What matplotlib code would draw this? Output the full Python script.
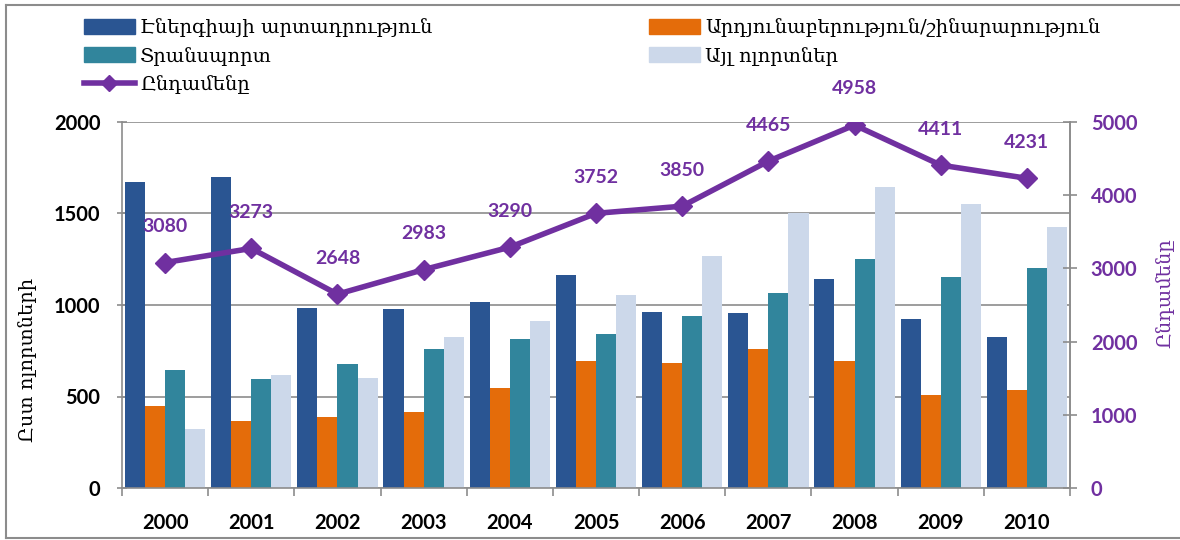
import numpy as np
import matplotlib.pyplot as plt
from matplotlib.lines import Line2D
from matplotlib.patches import Patch

# data
years = ["2000", "2001", "2002", "2003", "2004", "2005", "2006", "2007", "2008", "2009", "2010"]
energy = [1674, 1698, 985, 978, 1018, 1162, 960, 956, 1142, 925, 827]
industry = [448, 368, 390, 415, 545, 692, 685, 761, 694, 507, 534]
transport = [645, 596, 679, 760, 814, 843, 940, 1063, 1250, 1153, 1200]
other = [322, 617, 600, 827, 912, 1055, 1270, 1501, 1643, 1552, 1426]
total = [3080, 3273, 2648, 2983, 3290, 3752, 3850, 4465, 4958, 4411, 4231]

series_names = ["Էներգիայի արտադրություն", "Արդյունաբերություն/շինարարություն",
                "Տրանսպորտ", "Այլ ոլորտներ"]
total_name = "Ընդամենը"
left_title = "Ըստ ոլորտների"

colors = ["#2A5592", "#E46C0A", "#31859C", "#CCD8EA"]
purple = "#7030A0"
grey = "#8C8C8C"

serif = ["DejaVu Serif", "DejaVu Sans"]
num_font = ["Lato", "DejaVu Sans"]

fig = plt.figure(figsize=(11.8, 5.4), dpi=100)
ax = fig.add_axes([122 / 1180, 52 / 540, 948 / 1180, 366 / 540])

x = np.arange(len(years))
w = 0.233
for i, vals in enumerate([energy, industry, transport, other]):
    ax.bar(x + (i - 1.5) * w, vals, width=w, color=colors[i], zorder=2)

ax.set_xlim(-0.5, len(years) - 0.5)
ax.set_ylim(0, 2000)
ax.set_yticks([0, 500, 1000, 1500, 2000])
ax.yaxis.grid(True, color=grey, linewidth=1.2, zorder=0)
ax.set_axisbelow(True)

ax.spines["top"].set_visible(False)
for s in ["left", "bottom", "right"]:
    ax.spines[s].set_color(grey)
    ax.spines[s].set_linewidth(1.2)

ax.set_xticks(x)
ax.set_xticklabels(years)
ax.set_xticks(np.arange(-0.5, len(years), 1), minor=True)
ax.tick_params(axis="x", which="major", length=0, pad=18)
ax.tick_params(axis="x", which="minor", length=6, color=grey, width=1.2, direction="out")
ax.tick_params(axis="y", length=7, color=grey, width=1.2, direction="inout", pad=12)
for lab in ax.get_xticklabels() + ax.get_yticklabels():
    lab.set_fontfamily(num_font)
    lab.set_fontweight("bold")
    lab.set_fontsize(14.5)

# totals on the right axis
ax2 = ax.twinx()
ax2.set_ylim(0, 5000)
ax2.set_yticks([0, 1000, 2000, 3000, 4000, 5000])
ax2.plot(x, total, color=purple, linewidth=4, marker="D", markersize=10, zorder=5)
for xi, v in zip(x, total):
    ax2.annotate(str(v), (xi, v), xytext=(0, 26), textcoords="offset points",
                 ha="center", va="center", color=purple, fontsize=14,
                 fontweight="bold", fontfamily=num_font)
for s in ["top", "left", "bottom"]:
    ax2.spines[s].set_visible(False)
ax2.spines["right"].set_color(grey)
ax2.spines["right"].set_linewidth(1.2)
ax2.tick_params(axis="y", length=10, color=grey, width=1.2, direction="inout",
                pad=10, labelcolor=purple)
for lab in ax2.get_yticklabels():
    lab.set_fontfamily(num_font)
    lab.set_fontweight("bold")
    lab.set_fontsize(14.5)

fig.text(28 / 1180, 1 - 360 / 540, left_title, rotation=90, ha="center", va="center",
         fontsize=14, fontfamily=serif)
fig.text(1165 / 1180, 1 - 293 / 540, total_name, rotation=90, ha="center", va="center",
         fontsize=14, fontfamily=serif, color=purple)

# legends
h_energy = Patch(color=colors[0])
h_ind = Patch(color=colors[1])
h_tr = Patch(color=colors[2])
h_oth = Patch(color=colors[3])
h_tot = Line2D([], [], color=purple, linewidth=4, marker="D", markersize=8)
leg_kw = dict(frameon=False, handlelength=2.6, handleheight=0.8, handletextpad=0.3,
              labelspacing=0.5, borderpad=0, borderaxespad=0,
              prop={"family": serif, "size": 14})
fig.legend([h_energy, h_tr, h_tot], [series_names[0], series_names[2], total_name],
           loc="upper left", bbox_to_anchor=(84 / 1180, 1 - 18 / 540), **leg_kw)
fig.legend([h_ind, h_oth], [series_names[1], series_names[3]],
           loc="upper left", bbox_to_anchor=(649 / 1180, 1 - 18 / 540), **leg_kw)

# outer frame
fig.add_artist(Line2D([6 / 1180, 1], [1 - 5 / 540] * 2, color=grey, linewidth=1.5,
                      transform=fig.transFigure))
fig.add_artist(Line2D([6 / 1180, 6 / 1180], [1 - 5 / 540, 1 - 538 / 540], color=grey,
                      linewidth=1.5, transform=fig.transFigure))
fig.add_artist(Line2D([6 / 1180, 1], [1 - 538 / 540] * 2, color=grey, linewidth=1.5,
                      transform=fig.transFigure))

fig.savefig("out.png", dpi=100)
